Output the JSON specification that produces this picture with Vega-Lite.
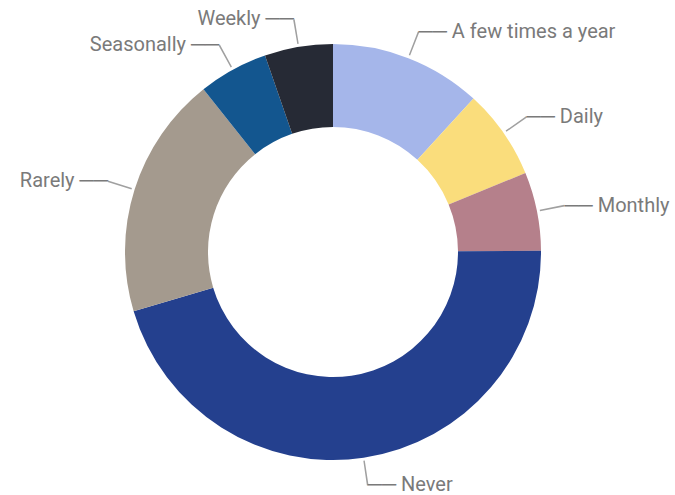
{
  "$schema": "https://vega.github.io/schema/vega-lite/v6.json",
  "width": 666,
  "height": 486,
  "autosize": {"type": "none"},
  "padding": {"left": 0, "top": 9, "right": 9, "bottom": 0},
  "background": "white",
  "config": {"view": {"stroke": null}},
  "data": {
    "values": [
      {"category": "A few times a year", "value": 11.8},
      {"category": "Daily", "value": 7.0},
      {"category": "Monthly", "value": 6.1},
      {"category": "Never", "value": 45.5},
      {"category": "Rarely", "value": 18.9},
      {"category": "Seasonally", "value": 5.4},
      {"category": "Weekly", "value": 5.3}
    ]
  },
  "transform": [
    {"window": [{"op": "sum", "field": "value", "as": "cum"}], "sort": [{"field": "category"}], "frame": [null, 0]},
    {"calculate": "datum.cum - datum.value / 2", "as": "mid"},
    {"calculate": "datum.mid - 0.055", "as": "m0"},
    {"calculate": "datum.mid + 0.055", "as": "m1"}
  ],
  "layer": [
    {
      "mark": {"type": "arc", "outerRadius": 208, "innerRadius": 125},
      "encoding": {
        "theta": {"field": "value", "type": "quantitative", "stack": true, "scale": {"domain": [0, 100]}},
        "color": {
          "field": "category",
          "type": "nominal",
          "legend": null,
          "scale": {
            "domain": ["A few times a year", "Daily", "Monthly", "Never", "Rarely", "Seasonally", "Weekly"],
            "range": ["#A5B6EA", "#FADD7C", "#B5808B", "#24408E", "#A49A8E", "#13568F", "#262A35"]
          }
        },
        "order": {"field": "category", "sort": "ascending"}
      }
    },
    {
      "mark": {"type": "arc", "outerRadius": 236, "innerRadius": 211, "color": "#a0a0a0"},
      "encoding": {
        "theta": {"field": "m0", "type": "quantitative", "stack": null, "scale": {"domain": [0, 100]}},
        "theta2": {"field": "m1"}
      }
    },
    {
      "transform": [
        {"filter": "datum.mid < 50"},
        {"calculate": "'\u2500\u2500 ' + datum.category", "as": "label"}
      ],
      "mark": {"type": "text", "radius": 236, "align": "left", "baseline": "middle", "font": "Roboto", "fontSize": 20, "color": "#7a7a7a"},
      "encoding": {
        "theta": {"field": "mid", "type": "quantitative", "stack": null, "scale": {"domain": [0, 100]}},
        "text": {"field": "label"}
      }
    },
    {
      "transform": [
        {"filter": "datum.mid >= 50"},
        {"calculate": "datum.category + ' \u2500\u2500'", "as": "label"}
      ],
      "mark": {"type": "text", "radius": 236, "align": "right", "baseline": "middle", "font": "Roboto", "fontSize": 20, "color": "#7a7a7a"},
      "encoding": {
        "theta": {"field": "mid", "type": "quantitative", "stack": null, "scale": {"domain": [0, 100]}},
        "text": {"field": "label"}
      }
    }
  ]
}
